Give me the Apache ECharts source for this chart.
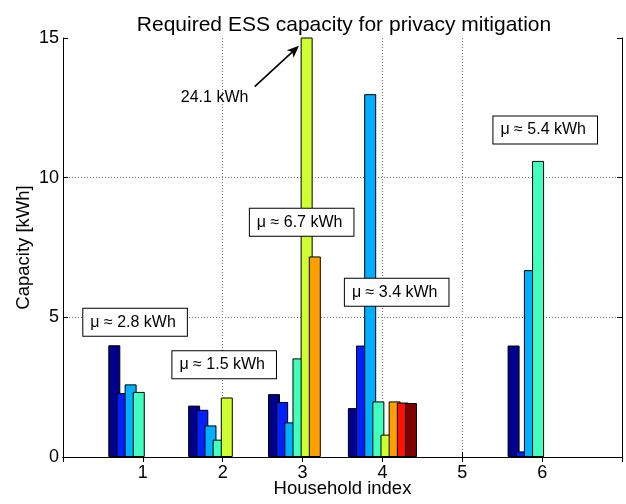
<!DOCTYPE html>
<html>
<head>
<meta charset="utf-8">
<script src="https://cdn.jsdelivr.net/npm/echarts@6/dist/echarts.min.js"></script>
<style>html,body{margin:0;padding:0;background:#fff}#c{width:626px;height:504px}</style>
</head>
<body>
<div id="c"></div>
<script>
// ---------- data ----------
const households = ['1', '2', '3', '4', '5', '6'];
const yTicks = [0, 5, 10, 15];
const ess1 = [4.00, 1.84, 2.25, 1.75, 0, 3.99];
const ess2 = [2.29, 1.69, 1.97, 3.99, 0, 0.20];
const ess3 = [2.60, 1.13, 1.24, 12.99, 0, 6.69];
const ess4 = [2.33, 0.62, 3.53, 1.99, 0, 10.60];
const ess5 = [0, 2.13, 24.1, 0.80, 0, 0];
const ess6 = [0, 0, 7.18, 1.99, 0, 0];
const ess7 = [0, 0, 0, 1.95, 0, 0];
const ess8 = [0, 0, 0, 1.93, 0, 0];
const meanLabels = ['μ ≈ 2.8 kWh', 'μ ≈ 1.5 kWh', 'μ ≈ 6.7 kWh', 'μ ≈ 3.4 kWh', 'μ ≈ 5.4 kWh'];
const clippedLabel = '24.1 kWh';

// ---------- annotation placement (data coordinates) ----------
const meanAnchorX = [0.254, 1.37, 2.34, 3.53, 5.39];
const meanAnchorY = [4.82, 3.30, 8.40, 5.90, 11.71];
const clippedAnchor = [1.475, 12.85];
const arrowFrom = [2.40, 13.26];
const arrowTo = [2.955, 14.72];

// ---------- styling ----------
const colors = ['#00008F', '#0020FF', '#00AFFF', '#40FFBF', '#CFFF30', '#FF9F00', '#FF1000', '#800000'];
const FONT = '"Liberation Sans", Arial, Helvetica, sans-serif';
const cats = [''].concat(households, ['']);
const seriesValues = [ess1, ess2, ess3, ess4, ess5, ess6, ess7, ess8];

const chart = echarts.init(document.getElementById('c'), null, {renderer: 'canvas'});

const axisCommonX = {
  type: 'category', data: cats, boundaryGap: false,
  axisLine: {show: true, lineStyle: {color: '#000', width: 1}},
  axisTick: {show: true, inside: true, length: 5, interval: 0, lineStyle: {color: '#000'}}
};

const option = {
  animation: false,
  backgroundColor: '#fff',
  title: {
    text: 'Required ESS capacity for privacy mitigation',
    left: 339, top: 10, textAlign: 'center',
    textStyle: {fontFamily: FONT, fontSize: 21, fontWeight: 'normal', color: '#000'}
  },
  grid: {left: 63, right: 4, top: 38, bottom: 47, containLabel: false, outerBoundsMode: 'none'},
  xAxis: [
    Object.assign({}, axisCommonX, {
      position: 'bottom',
      axisLabel: {interval: 0, fontFamily: FONT, fontSize: 18, color: '#000', margin: 7},
      splitLine: {show: true, showMinLine: false, showMaxLine: false,
        interval: function (i) { return i > 0 && i < cats.length - 1; },
        lineStyle: {type: [1, 2], color: '#777', width: 1}},
      name: 'Household index', nameLocation: 'middle', nameGap: 22, nameMoveOverlap: false,
      nameTextStyle: {fontFamily: FONT, fontSize: 18.5, color: '#000'}
    }),
    Object.assign({}, axisCommonX, {
      position: 'top',
      axisLabel: {show: false},
      splitLine: {show: false}
    })
  ],
  yAxis: [
    {
      type: 'value', min: yTicks[0], max: yTicks[yTicks.length - 1], interval: yTicks[1] - yTicks[0],
      position: 'left',
      axisLine: {show: true, lineStyle: {color: '#000', width: 1}},
      axisTick: {show: true, inside: true, length: 5, lineStyle: {color: '#000'}},
      axisLabel: {fontFamily: FONT, fontSize: 18, color: '#000', margin: 4},
      splitLine: {show: true, showMinLine: false, showMaxLine: false,
        lineStyle: {type: [1, 2], color: '#777', width: 1}},
      name: 'Capacity [kWh]', nameLocation: 'middle', nameGap: 30, nameRotate: 90, nameMoveOverlap: false,
      nameTextStyle: {fontFamily: FONT, fontSize: 18.5, color: '#000'}
    },
    {
      type: 'value', min: yTicks[0], max: yTicks[yTicks.length - 1], interval: yTicks[1] - yTicks[0],
      position: 'right',
      axisLine: {show: true, lineStyle: {color: '#000', width: 1}},
      axisTick: {show: true, inside: true, length: 5, lineStyle: {color: '#000'}},
      axisLabel: {show: false},
      splitLine: {show: false}
    }
  ],
  series: seriesValues.map(function (v, i) {
    const items = v.map(function (val) {
      return val === 0 ? {value: val, itemStyle: {borderWidth: 0}} : val;
    });
    return {
      type: 'bar', xAxisIndex: 0, yAxisIndex: 0,
      data: [null].concat(items, [null]),
      barWidth: 12, barGap: '-32%', clip: true,
      itemStyle: {color: colors[i], borderColor: '#000', borderWidth: 1}
    };
  })
};
chart.setOption(option);

function toPx(x, y) {
  const a = chart.convertToPixel({gridIndex: 0}, [0, y]);
  const b = chart.convertToPixel({gridIndex: 0}, [1, y]);
  return [a[0] + x * (b[0] - a[0]), a[1]];
}

const graphics = [];
meanLabels.forEach(function (t, i) {
  const p = toPx(meanAnchorX[i], meanAnchorY[i]);
  graphics.push({
    type: 'text', x: p[0], y: p[1], z: 100,
    style: {
      text: t, fontFamily: FONT, fontSize: 16, fill: '#000',
      backgroundColor: '#fff', borderColor: '#000', borderWidth: 1,
      padding: [6, 11, 5, 7], align: 'left', verticalAlign: 'middle'
    }
  });
});
const cp = toPx(clippedAnchor[0], clippedAnchor[1]);
graphics.push({
  type: 'text', x: cp[0], y: cp[1], z: 100,
  style: {text: clippedLabel, fontFamily: FONT, fontSize: 16, fill: '#000', align: 'left', verticalAlign: 'middle'}
});
const f = toPx(arrowFrom[0], arrowFrom[1]);
const t = toPx(arrowTo[0], arrowTo[1]);
const dx = t[0] - f[0], dy = t[1] - f[1];
const len = Math.sqrt(dx * dx + dy * dy);
const ux = dx / len, uy = dy / len, nx = -uy, ny = ux;
const L = 12, W = 5;
graphics.push({
  type: 'line', z: 100,
  shape: {x1: f[0], y1: f[1], x2: t[0] - ux * 6, y2: t[1] - uy * 6},
  style: {stroke: '#000', lineWidth: 1.6}
});
graphics.push({
  type: 'polygon', z: 100,
  shape: {points: [
    [t[0], t[1]],
    [t[0] - ux * L + nx * W, t[1] - uy * L + ny * W],
    [t[0] - ux * L * 0.75, t[1] - uy * L * 0.75],
    [t[0] - ux * L - nx * W, t[1] - uy * L - ny * W]
  ]},
  style: {fill: '#000'}
});
chart.setOption({graphic: graphics});
</script>
</body>
</html>
